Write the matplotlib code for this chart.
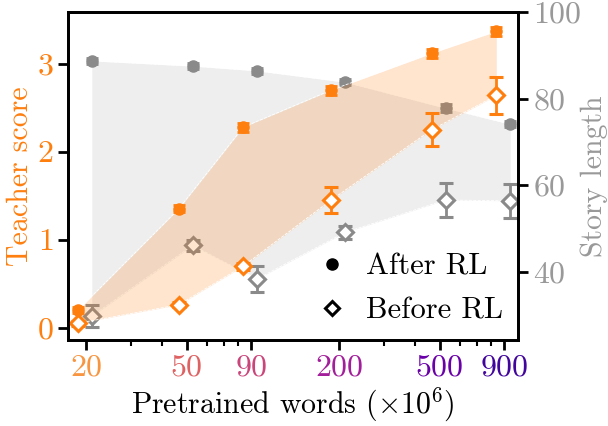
import matplotlib
matplotlib.use("Agg")
import matplotlib.pyplot as plt
import numpy as np
from matplotlib.lines import Line2D

plt.rcParams['font.family'] = 'serif'
plt.rcParams['font.serif'] = ['cmr10']
plt.rcParams['mathtext.fontset'] = 'cm'
plt.rcParams['axes.formatter.use_mathtext'] = True

# pretrained words (x 1e6)
words = np.array([20, 50, 90, 200, 500, 900])

# teacher score
teacher_after = np.array([0.20, 1.35, 2.28, 2.70, 3.12, 3.37])
teacher_after_err = np.array([0.03, 0.04, 0.05, 0.05, 0.05, 0.05])
teacher_before = np.array([0.05, 0.26, 0.70, 1.45, 2.25, 2.64])
teacher_before_err = np.array([0.03, 0.03, 0.04, 0.15, 0.19, 0.21])

# story length
length_after = np.array([88.7, 87.5, 86.4, 83.8, 77.8, 74.1])
length_after_err = np.array([0.7, 0.7, 0.7, 0.7, 1.0, 0.7])
length_before = np.array([29.8, 46.1, 38.4, 49.1, 56.6, 56.4])
length_before_err = np.array([2.6, 1.2, 3.0, 1.4, 4.0, 4.0])

orange = '#ff7f0e'
grey = '#8a8a8a'
tick_fs = 23
lab_fs = 21.5

fig = plt.figure(figsize=(6.08, 4.26), dpi=100)
ax = fig.add_axes([0.112, 0.202, 0.74, 0.77])
ax2 = ax.twinx()

# story length drawn underneath the teacher score
ax.set_zorder(ax2.get_zorder() + 1)
ax.patch.set_visible(False)

xo = words * 0.93
xg = words * 1.055

ax2.fill_between(xg, length_before, length_after, color=grey, alpha=0.14, lw=0)
ax2.plot(xg, length_after, color='white', ls='--', lw=0.6)
ax2.plot(xg, length_before, color='white', ls='--', lw=0.6)
ax2.errorbar(xg, length_after, yerr=length_after_err, fmt='o', color=grey,
             ms=8, capsize=4.5, elinewidth=2, capthick=2)
ax2.plot(xg, length_after, 'o', ms=4, mfc='none', mec='white', mew=0.6, ls='none')
ax2.errorbar(xg, length_before, yerr=length_before_err, fmt='D', color=grey,
             mfc='white', mec=grey, mew=2.2, ms=8, capsize=5, elinewidth=2, capthick=2)

ax.fill_between(xo, teacher_before, teacher_after, color=orange, alpha=0.2, lw=0)
ax.plot(xo, teacher_after, color='white', ls='--', lw=0.6)
ax.plot(xo, teacher_before, color='white', ls='--', lw=0.6)
ax.errorbar(xo, teacher_after, yerr=teacher_after_err, fmt='o', color=orange,
            ms=8, capsize=4.5, elinewidth=2, capthick=2)
ax.plot(xo, teacher_after, 'o', ms=4, mfc='none', mec='white', mew=0.6, ls='none')
ax.errorbar(xo, teacher_before, yerr=teacher_before_err, fmt='D', color=orange,
            mfc='white', mec=orange, mew=2.2, ms=8, capsize=5, elinewidth=2, capthick=2)

ax.set_xscale('log')
ax.set_xlim(17, 1020)
ax.set_ylim(-0.14, 3.59)
ax2.set_ylim(24.3, 100)

ax.set_xticks(words)
ax.set_xticks([30, 40, 60, 70, 80, 300, 400, 600, 700, 800], minor=True)
ax.set_xticklabels([str(w) for w in words])
lw_norm = (np.log(words) - np.log(20)) / (np.log(900) - np.log(20))
for lab, v in zip(ax.get_xticklabels(), lw_norm):
    lab.set_color(plt.cm.plasma(0.75 - 0.65 * v))

ax.set_yticks([0, 1, 2, 3])
ax2.set_yticks([40, 60, 80, 100])

for a in (ax, ax2):
    for s in a.spines.values():
        s.set_linewidth(2)
ax.tick_params(axis='both', which='major', length=7, width=2, labelsize=tick_fs, direction='out')
ax.tick_params(axis='x', which='minor', length=4, width=1.5)
ax.tick_params(axis='y', labelcolor=orange)
ax2.tick_params(axis='y', length=7, width=2, labelsize=tick_fs, labelcolor='#999999', pad=4)

ax.set_xlabel(r'Pretrained words ($\times10^6$)', fontsize=lab_fs, labelpad=3)
ax.set_ylabel('Teacher score', fontsize=lab_fs, color=orange, labelpad=2)
ax2.set_ylabel('Story length', fontsize=lab_fs, color='#999999', labelpad=-1)

handles = [
    Line2D([], [], marker='o', color='black', ls='none', ms=8),
    Line2D([], [], marker='D', color='black', mfc='white', mew=2.2, ls='none', ms=7),
]
ax.legend(handles, ['After RL', 'Before RL'], loc='lower right', frameon=False,
          fontsize=22, handletextpad=0.5, borderaxespad=0.1, handlelength=1.2,
          labelspacing=0.55)

fig.savefig('out.png', dpi=100)
